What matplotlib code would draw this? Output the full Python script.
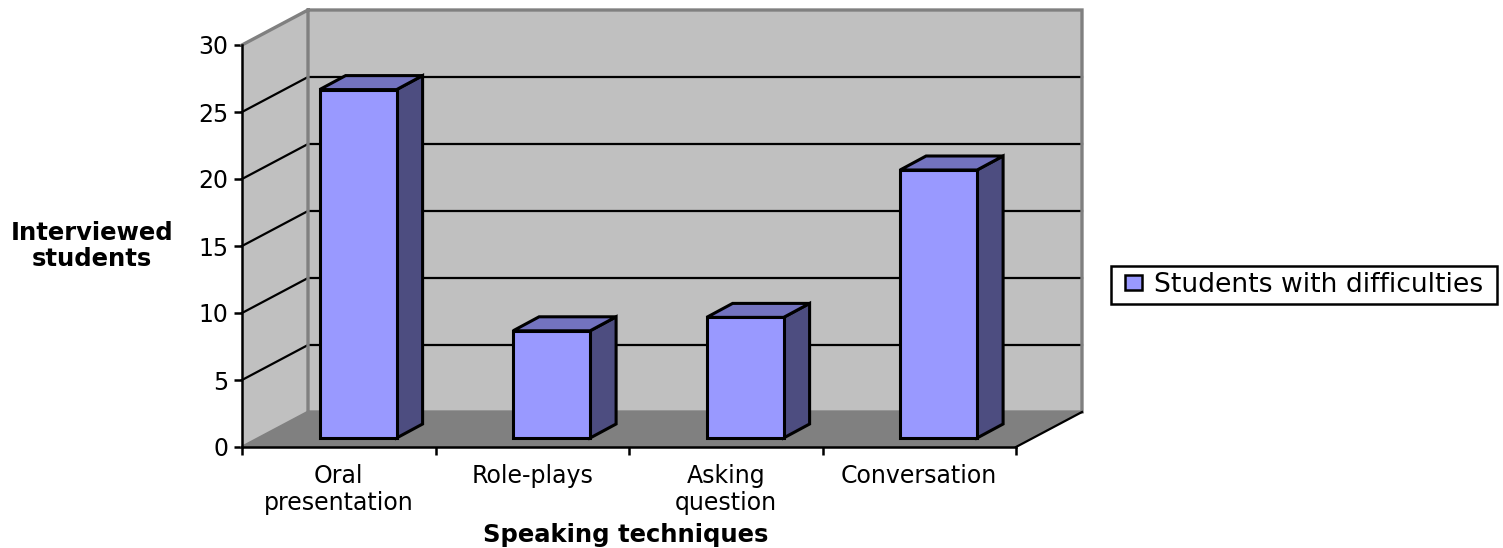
import matplotlib
matplotlib.use("Agg")
import matplotlib.pyplot as plt
from matplotlib.patches import Polygon, Patch, Rectangle

categories = ["Oral\npresentation", "Role-plays", "Asking\nquestion", "Conversation"]
values = [26, 8, 9, 20]
y_ticks = [0, 5, 10, 15, 20, 25, 30]
series_name = "Students with difficulties"
x_title = "Speaking techniques"
y_title = "Interviewed\nstudents"

W, H = 1503, 548
FRONT_COLOR, TOP_COLOR, SIDE_COLOR = "#9999FF", "#7373BF", "#4D4D80"
WALL, FLOOR, EDGE = "#C0C0C0", "#808080", "#808080"

fig = plt.figure(figsize=(W / 100, H / 100), dpi=100, facecolor="white")
ax = fig.add_axes([242 / W, 1 - 447 / H, 774 / W, 402 / H])
ax.set_xlim(0, len(categories))
ax.set_ylim(0, y_ticks[-1])

# Chart depth, expressed in data units of the front plane
dx, dy = 66 / 193.5, 35 / 13.4
# Bar placement inside the depth of the floor
bar_w = 77 / 193.5
bar_dx, bar_dy = 26 / 193.5, 14 / 13.4
off_x, off_y = 0.1, 9 / 13.4
top = y_ticks[-1]
n = len(categories)


def poly(points, face, edge="none", lw=0.0, z=1):
    ax.add_patch(Polygon(points, closed=True, facecolor=face, edgecolor=edge,
                         linewidth=lw, joinstyle="miter", clip_on=False, zorder=z))


# Walls and floor
poly([(dx, dy), (n + dx, dy), (n + dx, top + dy), (dx, top + dy)], WALL, z=1)
poly([(0, 0), (dx, dy), (dx, top + dy), (0, top)], WALL, z=1)
poly([(0, 0), (n, 0), (n + dx, dy), (dx, dy)], FLOOR, z=1)

# Gridlines on the back and side walls
for t in y_ticks[1:-1]:
    ax.plot([0, dx, n + dx], [t, t + dy, t + dy], color="black", lw=1.6,
            clip_on=False, zorder=2, solid_joinstyle="miter")

# Wall outlines
ax.plot([0, dx, n + dx, n + dx, dx, dx], [top, top + dy, top + dy, dy, dy, top + dy],
        color=EDGE, lw=2.4, clip_on=False, zorder=2, solid_joinstyle="miter")
ax.plot([0, dx], [0, dy], color=EDGE, lw=2.0, clip_on=False, zorder=2)
ax.plot([n, n + dx], [0, dy], color="black", lw=1.6, clip_on=False, zorder=2)

# Bars: front, top and side faces
for i, v in enumerate(values):
    x0 = i + 0.5 + off_x - bar_w / 2
    x1 = x0 + bar_w
    y0 = off_y
    y1 = off_y + v
    kw = dict(edge="black", lw=2.2, z=4)
    poly([(x1, y0), (x1 + bar_dx, y0 + bar_dy), (x1 + bar_dx, y1 + bar_dy), (x1, y1)], SIDE_COLOR, **kw)
    poly([(x0, y1), (x1, y1), (x1 + bar_dx, y1 + bar_dy), (x0 + bar_dx, y1 + bar_dy)], TOP_COLOR, **kw)
    poly([(x0, y0), (x1, y0), (x1, y1), (x0, y1)], FRONT_COLOR, **kw)

for side in ("top", "right"):
    ax.spines[side].set_visible(False)
for side in ("left", "bottom"):
    ax.spines[side].set_linewidth(1.8)
    ax.spines[side].set_zorder(3)
ax.patch.set_alpha(0)

FONT = "DejaVu Sans"
ax.set_yticks(y_ticks)
ax.set_yticklabels([str(t) for t in y_ticks], family=FONT, fontsize=17)
ax.set_xticks(range(n + 1))
ax.set_xticklabels([""] * (n + 1))
ax.tick_params(axis="both", length=6, width=1.8, color="black", pad=4)

for i, label in enumerate(categories):
    ax.annotate(label, xy=(i + 0.5, 0), xycoords=("data", "axes fraction"),
                xytext=(0, -12), textcoords="offset points", ha="center", va="top",
                family=FONT, fontsize=17, linespacing=1.15)

fig.text(626 / W, 1 - 535 / H, x_title, ha="center", va="center",
         family=FONT, fontsize=17.5, fontweight="bold")
fig.text(92 / W, 1 - 246 / H, y_title, ha="center", va="center",
         family=FONT, fontsize=17.5, fontweight="bold", linespacing=1.15)

# Legend box drawn separately so its padding can differ per direction
fig.add_artist(Rectangle((1111 / W, 1 - 304 / H), 386 / W, 38 / H,
                         transform=fig.transFigure, facecolor="white",
                         edgecolor="black", linewidth=1.8))
handle = Patch(facecolor=FRONT_COLOR, edgecolor="black", linewidth=1.8)
leg = fig.legend(handles=[handle], labels=[series_name],
                 loc="center", bbox_to_anchor=(1304 / W, 1 - 285 / H),
                 frameon=False, prop={"family": FONT, "size": 19.2},
                 handlelength=0.63, handleheight=0.45, handletextpad=0.45,
                 borderpad=0, borderaxespad=0)

fig.savefig("out.png", dpi=100, facecolor="white")
